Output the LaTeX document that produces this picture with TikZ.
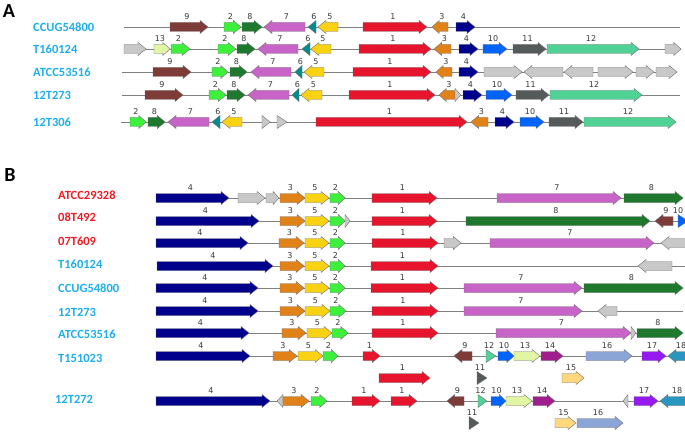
\documentclass[tikz,border=0pt]{standalone}
\usepackage{fontspec}
\setmainfont{Carlito}
\newfontfamily\numfont{DejaVu Sans}
\definecolor{g1}{RGB}{230,20,45}
\definecolor{g2}{RGB}{60,240,60}
\definecolor{g3}{RGB}{225,130,25}
\definecolor{g4}{RGB}{0,0,140}
\definecolor{g5}{RGB}{250,210,20}
\definecolor{g6}{RGB}{0,140,140}
\definecolor{g7}{RGB}{200,100,200}
\definecolor{g8}{RGB}{30,120,45}
\definecolor{g9}{RGB}{125,60,55}
\definecolor{g10}{RGB}{0,100,250}
\definecolor{g11}{RGB}{85,90,90}
\definecolor{g12}{RGB}{80,210,150}
\definecolor{g13}{RGB}{225,245,165}
\definecolor{g14}{RGB}{160,30,140}
\definecolor{g15}{RGB}{255,215,125}
\definecolor{g16}{RGB}{140,165,215}
\definecolor{g17}{RGB}{150,25,240}
\definecolor{g18}{RGB}{40,150,190}
\definecolor{gry}{RGB}{200,200,200}
\definecolor{blu}{RGB}{30,175,235}
\definecolor{rd}{RGB}{238,28,37}
\tikzset{
  gene/.style={draw=black!55,line width=0.4pt},
  glabel/.style={font=\numfont\fontsize{8}{8}\selectfont,text=black!78,inner sep=0pt},
  strain/.style={font=\bfseries\fontsize{12.5}{13}\selectfont,anchor=west,inner sep=0pt},
  panel/.style={font=\bfseries\fontsize{20}{20}\selectfont,inner sep=0pt},
  backbone/.style={draw=black!50,line width=0.6pt}
}
\newcommand{\geneR}[5]{%
  \pgfmathsetmacro\gHead{(#2-#1<12) ? (#2-#1) : min(8,0.45*(#2-#1))}
  \pgfmathsetmacro\gNeck{#2-\gHead}
  \filldraw[gene,fill=#4] (#1,#3-4.5) -- (\gNeck,#3-4.5) -- (\gNeck,#3-6.5) -- (#2,#3) -- (\gNeck,#3+6.5) -- (\gNeck,#3+4.5) -- (#1,#3+4.5) -- cycle;
  \node[glabel] at ({(#1+#2)/2-2},#3-10.5) {#5};
}
\newcommand{\geneL}[5]{%
  \pgfmathsetmacro\gHead{(#2-#1<12) ? (#2-#1) : min(8,0.45*(#2-#1))}
  \pgfmathsetmacro\gNeck{#1+\gHead}
  \filldraw[gene,fill=#4] (#2,#3-4.5) -- (\gNeck,#3-4.5) -- (\gNeck,#3-6.5) -- (#1,#3) -- (\gNeck,#3+6.5) -- (\gNeck,#3+4.5) -- (#2,#3+4.5) -- cycle;
  \node[glabel] at ({(#1+#2)/2+2},#3-10.5) {#5};
}
\begin{document}
\begin{tikzpicture}[x=1pt,y=-1pt]
    \clip (0,0) rectangle (685,433);
    \fill[white] (0,0) rectangle (685,433);
    \node[panel] (A) at (9,11) {A};
    \node[panel] (B) at (10,175) {B};
    \node[strain,text=blu] (a1) at (33,27) {CCUG54800};
    \node[strain,text=blu] (a2) at (33,49) {T160124};
    \node[strain,text=blu] (a3) at (33,72) {ATCC53516};
    \node[strain,text=blu] (a4) at (33,95) {12T273};
    \node[strain,text=blu] (a5) at (33,122) {12T306};
    \node[strain,text=rd] (b1) at (58,195) {ATCC29328};
    \node[strain,text=rd] (b2) at (58,217) {08T492};
    \node[strain,text=rd] (b3) at (58,241) {07T609};
    \node[strain,text=blu] (b4) at (58,264) {T160124};
    \node[strain,text=blu] (b5) at (58,288) {CCUG54800};
    \node[strain,text=blu] (b6) at (58,312) {12T273};
    \node[strain,text=blu] (b7) at (58,334) {ATCC53516};
    \node[strain,text=blu] (b8) at (58,358) {T151023};
    \node[strain,text=blu] (b9) at (55,399) {12T272};

    \draw[backbone] (124,27) -- (680,27);
    \draw[backbone] (124,49) -- (681,49);
    \draw[backbone] (122,72) -- (677,72);
    \draw[backbone] (122,95) -- (680,95);
    \draw[backbone] (121,122) -- (676,122);
    \draw[backbone] (156,198) -- (683,198);
    \draw[backbone] (156,221) -- (685,221);
    \draw[backbone] (156,243) -- (685,243);
    \draw[backbone] (157,266) -- (685,266);
    \draw[backbone] (156,288) -- (683,288);
    \draw[backbone] (156,311) -- (683,311);
    \draw[backbone] (156,333) -- (683,333);
    \draw[backbone] (156,356) -- (685,356);
    \draw[backbone] (156,401) -- (685,401);

    \geneR{170}{208}{27}{g9}{9}
    \geneR{224}{241}{27}{g2}{2}
    \geneR{242}{262}{27}{g8}{8}
    \geneL{264}{305}{27}{g7}{7}
    \geneL{308}{316}{27}{g6}{6}
    \geneL{318}{338}{27}{g5}{5}
    \geneR{363}{427}{27}{g1}{1}
    \geneL{432}{448}{27}{g3}{3}
    \geneR{456}{475}{27}{g4}{4}

    \geneR{124}{146}{49}{gry}{}
    \geneR{154}{170}{49}{g13}{13}
    \geneR{171}{190}{49}{g2}{2}
    \geneR{218}{236}{49}{g2}{2}
    \geneR{237}{255}{49}{g8}{8}
    \geneL{258}{298}{49}{g7}{7}
    \geneL{302}{310}{49}{g6}{6}
    \geneL{311}{331}{49}{g5}{5}
    \geneR{359}{431}{49}{g1}{1}
    \geneL{434}{451}{49}{g3}{3}
    \geneR{459}{478}{49}{g4}{4}
    \geneR{483}{507}{49}{g10}{10}
    \geneR{513}{546}{49}{g11}{11}
    \geneR{547}{639}{49}{g12}{12}
    \geneR{665}{681}{49}{gry}{}

    \geneR{153}{191}{72}{g9}{9}
    \geneR{212}{228}{72}{g2}{2}
    \geneR{230}{247}{72}{g8}{8}
    \geneL{251}{291}{72}{g7}{7}
    \geneL{295}{302}{72}{g6}{6}
    \geneL{304}{324}{72}{g5}{5}
    \geneR{353}{431}{72}{g1}{1}
    \geneL{436}{452}{72}{g3}{3}
    \geneR{459}{478}{72}{g4}{4}
    \geneR{484}{522}{72}{gry}{}
    \geneL{524}{563}{72}{gry}{}
    \geneL{564}{593}{72}{gry}{}
    \geneR{598}{633}{72}{gry}{}
    \geneR{636}{654}{72}{gry}{}
    \geneR{656}{677}{72}{gry}{}

    \geneR{145}{183}{95}{g9}{9}
    \geneR{209}{226}{95}{g2}{2}
    \geneR{227}{245}{95}{g8}{8}
    \geneL{248}{289}{95}{g7}{7}
    \geneL{292}{299}{95}{g6}{6}
    \geneL{301}{322}{95}{g5}{5}
    \geneR{349}{435}{95}{g1}{1}
    \geneL{439}{455}{95}{g3}{3}
    \geneR{455}{461}{95}{gry}{}
    \geneR{463}{482}{95}{g4}{4}
    \geneR{486}{512}{95}{g10}{10}
    \geneR{516}{549}{95}{g11}{11}
    \geneR{550}{642}{95}{g12}{12}

    \geneR{130}{146}{122}{g2}{2}
    \geneR{148}{165}{122}{g8}{8}
    \geneL{168}{209}{122}{g7}{7}
    \geneL{212}{220}{122}{g6}{6}
    \geneL{222}{242}{122}{g5}{5}
    \geneR{262}{270}{122}{gry}{}
    \geneR{277}{287}{122}{gry}{}
    \geneR{316}{467}{122}{g1}{1}
    \geneL{471}{488}{122}{g3}{3}
    \geneR{495}{514}{122}{g4}{4}
    \geneR{520}{544}{122}{g10}{10}
    \geneR{549}{583}{122}{g11}{11}
    \geneR{584}{676}{122}{g12}{12}

    \geneR{156}{229}{198}{g4}{4}
    \geneR{238}{265}{198}{gry}{}
    \geneR{266}{279}{198}{gry}{}
    \geneR{280}{305}{198}{g3}{3}
    \geneR{305}{329}{198}{g5}{5}
    \geneR{330}{345}{198}{g2}{2}
    \geneR{372}{437}{198}{g1}{1}
    \geneR{497}{621}{198}{g7}{7}
    \geneR{624}{683}{198}{g8}{8}

    \geneR{156}{259}{221}{g4}{4}
    \geneR{280}{305}{221}{g3}{3}
    \geneR{305}{329}{221}{g5}{5}
    \geneR{330}{345}{221}{g2}{2}
    \geneR{345}{350}{221}{gry}{}
    \geneR{372}{437}{221}{g1}{1}
    \geneR{466}{650}{221}{g8}{8}
    \geneL{655}{673}{221}{g9}{9}
    \geneR{678}{688}{221}{g10}{}
    \node[glabel] (n10) at (678,210.5) {10};

    \geneR{156}{248}{243}{g4}{4}
    \geneR{279}{304}{243}{g3}{3}
    \geneR{305}{329}{243}{g5}{5}
    \geneR{330}{345}{243}{g2}{2}
    \geneR{372}{438}{243}{g1}{1}
    \geneR{444}{461}{243}{gry}{}
    \geneR{490}{654}{243}{g7}{7}
    \geneL{661}{700}{243}{gry}{}

    \geneR{157}{273}{266}{g4}{4}
    \geneR{280}{304}{266}{g3}{3}
    \geneR{305}{329}{266}{g5}{5}
    \geneR{330}{345}{266}{g2}{2}
    \geneR{371}{438}{266}{g1}{1}
    \geneL{638}{672}{266}{gry}{}

    \geneR{156}{258}{288}{g4}{4}
    \geneR{280}{304}{288}{g3}{3}
    \geneR{305}{329}{288}{g5}{5}
    \geneR{330}{345}{288}{g2}{2}
    \geneR{371}{438}{288}{g1}{1}
    \geneR{464}{582}{288}{g7}{7}
    \geneR{584}{683}{288}{g8}{8}

    \geneR{156}{258}{311}{g4}{4}
    \geneR{280}{305}{311}{g3}{3}
    \geneR{305}{330}{311}{g5}{5}
    \geneR{330}{346}{311}{g2}{2}
    \geneR{372}{438}{311}{g1}{1}
    \geneR{464}{582}{311}{g7}{7}
    \geneL{598}{617}{311}{gry}{}

    \geneR{156}{249}{333}{g4}{4}
    \geneR{282}{306}{333}{g3}{3}
    \geneR{307}{332}{333}{g5}{5}
    \geneR{332}{348}{333}{g2}{2}
    \geneR{372}{438}{333}{g1}{1}
    \geneR{496}{631}{333}{g7}{7}
    \geneR{631}{636}{333}{gry}{}
    \geneR{637}{683}{333}{g8}{8}

    \geneR{156}{250}{356}{g4}{4}
    \geneR{273}{297}{356}{g3}{3}
    \geneR{298}{323}{356}{g5}{5}
    \geneR{323}{338}{356}{g2}{2}
    \geneR{363}{380}{356}{g1}{1}
    \geneL{454}{472}{356}{g9}{9}
    \geneR{486}{496}{356}{g12}{12}
    \geneR{498}{514}{356}{g10}{10}
    \geneR{514}{540}{356}{g13}{13}
    \geneR{541}{563}{356}{g14}{14}
    \geneR{586}{632}{356}{g16}{16}
    \geneR{642}{666}{356}{g17}{17}
    \geneL{668}{690}{356}{g18}{18}

    \geneR{379}{430}{378}{g1}{1}
    \geneR{477}{487}{378}{g11}{11}
    \geneR{562}{584}{378}{g15}{15}

    \geneR{156}{270}{401}{g4}{4}
    \geneL{277}{283}{401}{gry}{}
    \geneR{283}{309}{401}{g3}{3}
    \geneR{311}{327}{401}{g2}{2}
    \geneR{352}{380}{401}{g1}{1}
    \geneR{391}{417}{401}{g1}{1}
    \geneL{447}{464}{401}{g9}{9}
    \geneR{478}{487}{401}{g12}{12}
    \geneR{491}{506}{401}{g10}{10}
    \geneR{506}{532}{401}{g13}{13}
    \geneR{533}{555}{401}{g14}{14}
    \geneL{623}{628}{401}{gry}{}
    \geneR{634}{658}{401}{g17}{17}
    \geneL{660}{690}{401}{g18}{18}

    \geneR{469}{479}{423}{g11}{11}
    \geneR{555}{576}{423}{g15}{15}
    \geneR{577}{623}{423}{g16}{16}
\end{tikzpicture}
\end{document}
